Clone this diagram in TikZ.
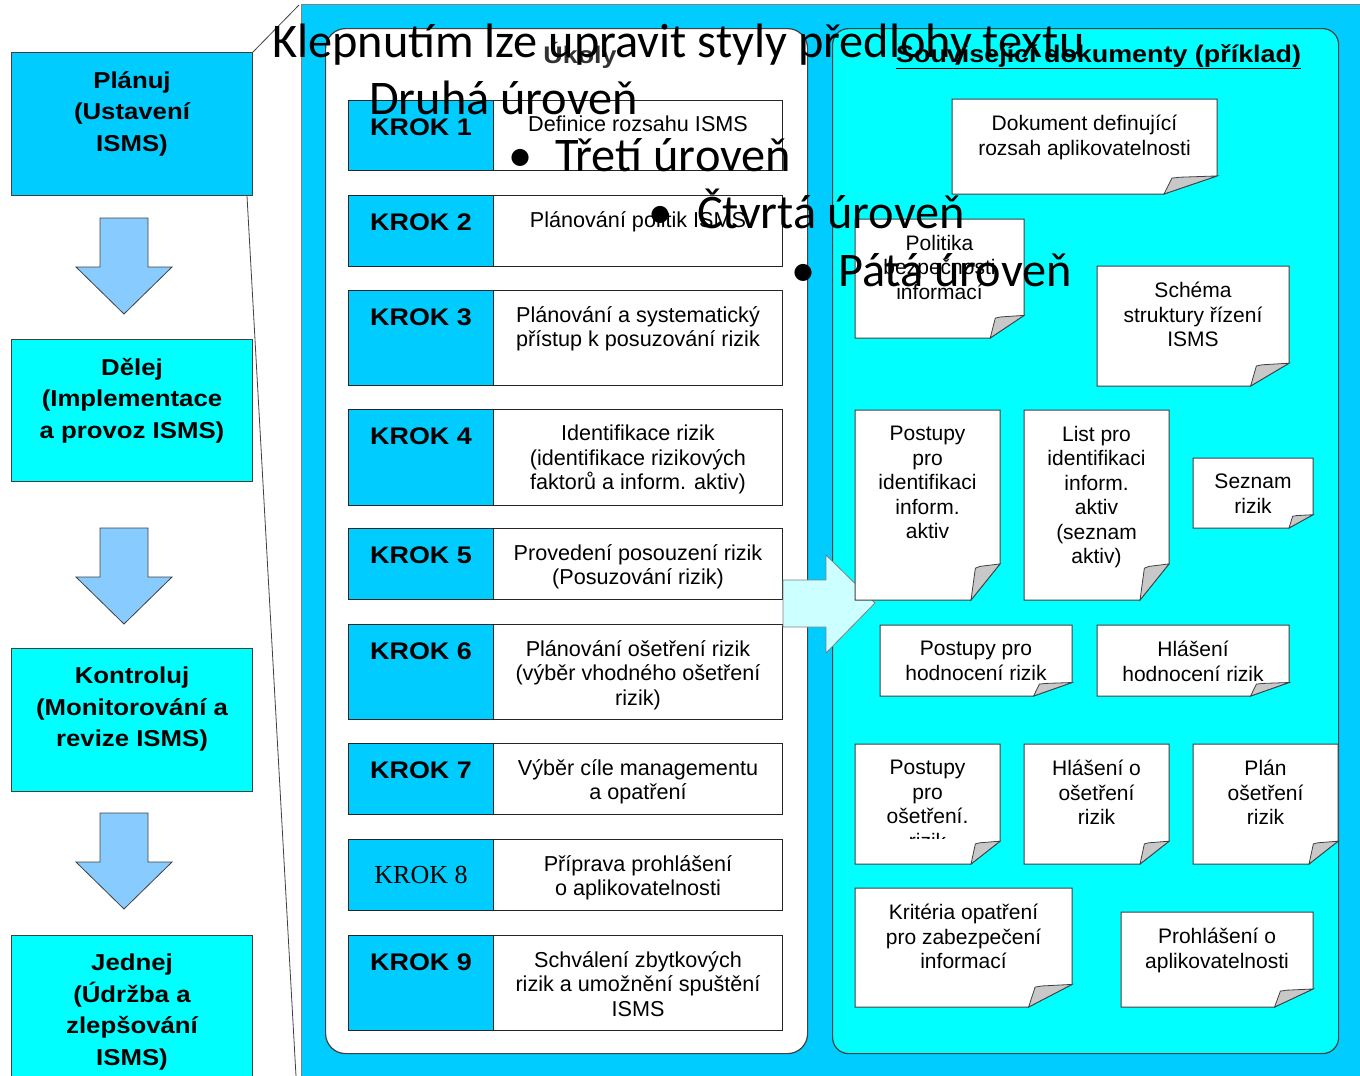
\documentclass[tikz,border=0pt]{standalone}
\usepackage{fontspec}
\setmainfont{Liberation Sans}
\newfontfamily\widesans[FakeStretch=1.12]{Liberation Sans}
\newfontfamily\serifrm{Liberation Serif}
\newfontfamily\slidefont{Carlito}
\usetikzlibrary{positioning}

\definecolor{skyblue}{HTML}{00CCFF}
\definecolor{lightcyan}{HTML}{00FFFF}
\definecolor{arrowblue}{HTML}{88CCFF}
\definecolor{paleblue}{HTML}{CCFFFF}
\definecolor{foldgray}{HTML}{C8C8C8}
\definecolor{edgegray}{HTML}{404040}

\tikzset{
  phasebox/.style={draw=edgegray, line width=1pt, anchor=north west, minimum width=241pt, inner sep=0pt},
  phasetext/.style={anchor=north, align=center, inner sep=0pt, font=\fontsize{23}{31.5}\widesans\bfseries},
  cellbox/.style={draw=black!85, line width=1pt, anchor=north west, inner sep=0pt},
  kroktext/.style={anchor=north, inner sep=0pt, font=\fontsize{24}{30}\widesans\bfseries},
  tasktext/.style={anchor=north, align=center, inner sep=0pt, font=\fontsize{21.6}{24.5}\selectfont},
  notetext/.style={anchor=north, align=center, inner sep=0pt, font=\fontsize{21}{24.5}\selectfont},
  slidetext/.style={anchor=base west, inner sep=0pt, font=\fontsize{48.3}{56}\slidefont},
  downarrow/.pic={
    \draw[edgegray, line width=0.8pt, fill=arrowblue] (-24,0) -- (24,0) -- (24,49) -- (48,49) -- (0,96) -- (-48,49) -- (-24,49) -- cycle;
  }
}

% note with curled corner: name, x1, y1, x2, y2, text
\newcommand{\docnote}[6]{%
  \pgfmathsetmacro{\foldw}{0.2*(#4-#2)}%
  \pgfmathsetmacro{\foldh}{0.19*(#5-#3)}%
  \draw[edgegray, line width=1pt, fill=white] (#2,#3) -- (#4,#3) -- (#4,#5-\foldh) -- (#4-\foldw,#5) -- (#2,#5) -- cycle;
  \draw[edgegray, line width=0.8pt, fill=foldgray] (#4-\foldw,#5) -- (#4-0.85*\foldw,#5-0.88*\foldh) -- (#4-0.7*\foldw,#5-0.93*\foldh) -- (#4,#5-\foldh) -- cycle;
  \node[notetext] (#1) at ({(#2+#4)/2},#3+16) {#6};
}

\begin{document}
\begin{tikzpicture}[x=1pt,y=-1pt]
\useasboundingbox (0,0) rectangle (1360,1076);

% phases on the left
\node[phasebox, fill=skyblue, minimum height=143pt] (plan) at (11,52) {};
\node[phasetext] (plantext) at ([yshift=-19pt]plan.north) {Plánuj\\(Ustavení\\ISMS)};
\pic at (124,218) {downarrow};
\node[phasebox, fill=lightcyan, minimum height=142pt] (do) at (11,339) {};
\node[phasetext] (dotext) at ([yshift=-19pt]do.north) {Dělej\\(Implementace\\a provoz ISMS)};
\pic at (124,528) {downarrow};
\node[phasebox, fill=lightcyan, minimum height=143pt] (check) at (11,648) {};
\node[phasetext] (checktext) at ([yshift=-19pt]check.north) {Kontroluj\\(Monitorování a\\revize ISMS)};
\pic at (124,813) {downarrow};
\node[phasebox, fill=lightcyan, minimum height=160pt] (act) at (11,935) {};
\node[phasetext] (acttext) at ([yshift=-19pt]act.north) {Jednej\\(Údržba a\\zlepšování\\ISMS)};

% zoom lines
\coordinate (zoomtop) at (299,5);
\coordinate (zoombot) at (296,1076);
\draw[edgegray, line width=0.8pt] (plan.north east) -- (zoomtop);
\draw[edgegray, line width=0.8pt] ([xshift=-6pt]plan.south east) -- (zoombot);

% panels
\node[draw=gray, line width=1pt, fill=skyblue, anchor=north west, minimum width=1062pt, minimum height=1076pt, inner sep=0pt] (panel) at (301,4) {};
\node[draw=edgegray, line width=1.2pt, fill=white, rounded corners=20pt, anchor=north west, minimum width=482pt, minimum height=1025pt, inner sep=0pt] (tasks) at (325,28) {};
\node[draw=edgegray, line width=1.2pt, fill=lightcyan, rounded corners=16pt, anchor=north west, minimum width=506pt, minimum height=1025pt, inner sep=0pt] (docs) at (832,28) {};
\node[anchor=base, inner sep=0pt, text=black!80, font=\fontsize{24}{28}\widesans\bfseries] (taskstitle) at (580,63) {Úkoly};
\node[anchor=base west, inner sep=0pt, font=\fontsize{24}{28}\widesans\bfseries] (docstitle) at (896,62) {\underline{Související dokumenty (příklad)}};

% steps
\foreach \n/\t/\h/\txt in {
  1/100/70/{Definice rozsahu ISMS},
  2/195/71/{Plánování politik ISMS},
  3/290/95/{Plánování a systematický\\přístup k posuzování rizik},
  4/409/96/{Identifikace rizik\\(identifikace rizikových\\faktorů a inform. aktiv)},
  5/528/71/{Provedení posouzení rizik\\(Posuzování rizik)},
  6/624/95/{Plánování ošetření rizik\\(výběr vhodného ošetření\\rizik)},
  7/743/71/{Výběr cíle managementu\\a opatření},
  8/839/71/{Příprava prohlášení\\o aplikovatelnosti},
  9/935/95/{Schválení zbytkových\\rizik a umožnění spuštění\\ISMS}}{
  \node[cellbox, fill=skyblue, minimum width=145pt, minimum height=\h pt] (krok\n) at (348,\t) {};
  \node[cellbox, fill=white, minimum width=289pt, minimum height=\h pt] (task\n) at (493,\t) {};
  \node[tasktext] (tasktext\n) at ([yshift=-16pt]task\n.north) {\txt};
  \ifnum\n=8\else
    \node[kroktext] (kroklabel\n) at ([yshift=-19pt]krok\n.north) {KROK \n};
  \fi
}
\node[inner sep=0pt, font=\fontsize{26}{30}\serifrm] (kroklabel8) at (krok8.center) {KROK 8};

% big arrow to documents
\draw[gray, line width=0.8pt, fill=paleblue] (783,580) -- (826,580) -- (826,555) -- (875,603) -- (826,653) -- (826,627) -- (783,627) -- cycle;

% documents
\docnote{scopedoc}{952}{99}{1217}{194}{Dokument definující\\rozsah aplikovatelnosti}
\docnote{policy}{855}{219}{1024}{338}{Politika\\bezpečnosti\\informací}
\docnote{scheme}{1097}{266}{1289}{386}{Schéma\\struktury řízení\\ISMS}
\docnote{assetproc}{855}{410}{1000}{600}{Postupy\\pro\\identifikaci\\inform.\\aktiv}
\docnote{assetlist}{1024}{410}{1169}{600}{List pro\\identifikaci\\inform.\\aktiv\\(seznam\\aktiv)}
\docnote{risklist}{1193}{458}{1313}{528}{Seznam\\rizik}
\docnote{assessproc}{880}{625}{1072}{696}{Postupy pro\\hodnocení rizik}
\docnote{assessreport}{1097}{625}{1289}{696}{Hlášení\\hodnocení rizik}
\docnote{treatproc}{855}{744}{1000}{864}{}
\begin{scope}
  \clip (855,744) rectangle (1000,838);
  \node[notetext] (treatproctext) at (927.5,760) {Postupy\\pro\\ošetření.\\rizik};
\end{scope}
\docnote{treatreport}{1024}{744}{1169}{864}{Hlášení o\\ošetření\\rizik}
\docnote{treatplan}{1193}{744}{1338}{864}{Plán\\ošetření\\rizik}
\docnote{criteria}{855}{888}{1072}{1007}{Kritéria opatření\\pro zabezpečení\\informací}
\docnote{soa}{1121}{912}{1313}{1007}{Prohlášení o\\aplikovatelnosti}

% slide placeholder text on top
\node[slidetext] (level1) at (272,57) {Klepnutím lze upravit styly předlohy textu};
\node[slidetext] (level2) at (369,114) {Druhá úroveň};
\node[slidetext] (bullet3) at (508,171) {•};
\node[slidetext] (level3) at (555,171) {Třetí úroveň};
\node[slidetext] (bullet4) at (648,228) {•};
\node[slidetext] (level4) at (697,228) {Čtvrtá úroveň};
\node[slidetext] (bullet5) at (791,286) {•};
\node[slidetext] (level5) at (838,286) {Pátá úroveň};
\end{tikzpicture}
\end{document}
